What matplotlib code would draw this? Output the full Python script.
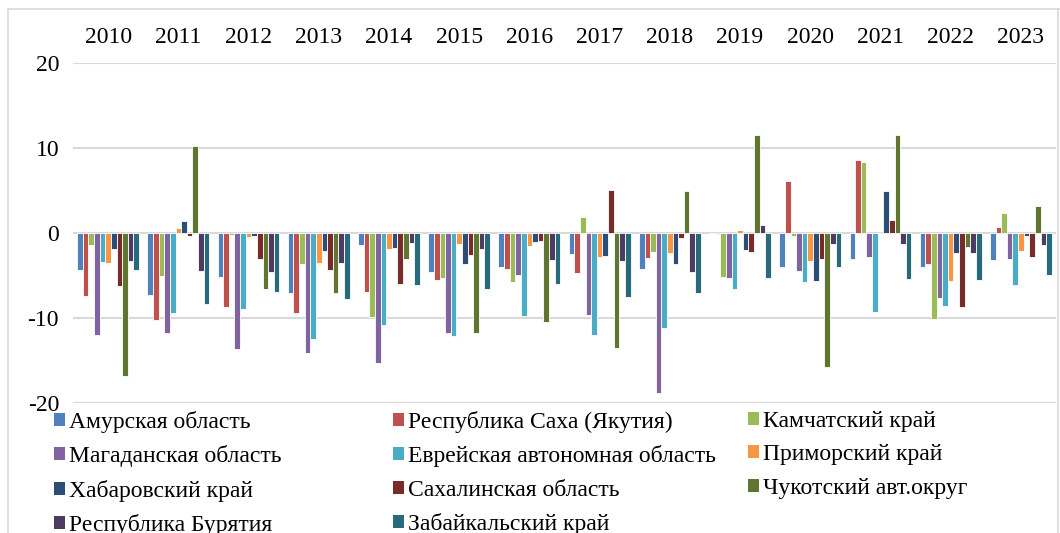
import matplotlib
matplotlib.use('Agg')
import matplotlib.pyplot as plt
from matplotlib.patches import Patch
from matplotlib.lines import Line2D
import numpy as np

plt.rcParams['font.family'] = ['Liberation Serif', 'DejaVu Serif']

years = ['2010', '2011', '2012', '2013', '2014', '2015', '2016',
         '2017', '2018', '2019', '2020', '2021', '2022', '2023']

regions = ['Амурская область', 'Республика Саха (Якутия)', 'Камчатский край',
           'Магаданская область', 'Еврейская автономная область', 'Приморский край',
           'Хабаровский край', 'Сахалинская область', 'Чукотский авт.округ',
           'Республика Бурятия', 'Забайкальский край']

colors = ['#4F81BD', '#C0504D', '#9BBB59', '#8064A2', '#4BACC6', '#F79646',
          '#2C4D75', '#772C2A', '#5F7530', '#4D3B62', '#276A7C']

amur      = [-4.4, -7.3, -5.2, -7.0, -1.4, -4.55, -3.95, -2.5, -4.2, 0.0, -3.95, -3.0, -4.0, -3.2]
sakha     = [-7.4, -10.2, -8.7, -9.45, -6.9, -5.5, -4.2, -4.7, -2.9, -0.15, 6.15, 8.6, -3.7, 0.75]
kamchatka = [-1.45, -5.0, -0.2, -3.7, -9.9, -5.3, -5.8, 1.9, -2.25, -5.2, -0.35, 8.3, -10.1, 2.4]
magadan   = [-12.0, -11.8, -13.7, -14.1, -15.3, -11.8, -4.95, -9.65, -18.8, -5.25, -4.45, -2.8, -7.7, -3.0]
evrei     = [-3.45, -9.45, -8.9, -12.5, -10.8, -12.1, -9.75, -12.0, -11.2, -6.55, -5.75, -9.3, -8.6, -6.1]
primorsky = [-3.5, 0.55, -0.5, -3.55, -1.9, -1.35, -1.55, -2.85, -2.3, 0.4, -3.25, -0.1, -5.7, -2.1]
khab      = [-1.9, 1.45, -0.3, -2.1, -1.8, -3.6, -1.05, -2.7, -3.6, -2.0, -5.6, 5.0, -2.3, -0.4]
sakhalin  = [-6.2, -0.3, -3.05, -4.4, -5.95, -2.55, -0.9, 5.05, -0.6, -2.2, -3.0, 1.55, -8.7, -2.8]
chukotka  = [-16.8, 10.2, -6.6, -7.0, -3.0, -11.8, -10.5, -13.5, 5.0, 11.5, -15.8, 11.55, -1.7, 3.15]
buryatia  = [-3.25, -4.5, -4.6, -3.55, -1.15, -1.9, -3.2, -3.35, -4.6, 1.0, -1.35, -1.3, -2.3, -1.45]
zabaikal  = [-4.35, -8.4, -6.9, -7.8, -6.15, -6.6, -5.95, -7.5, -7.0, -5.3, -3.95, -5.45, -5.5, -4.95]

series = [amur, sakha, kamchatka, magadan, evrei, primorsky,
          khab, sakhalin, chukotka, buryatia, zabaikal]

fig = plt.figure(figsize=(10.6, 5.33), dpi=100)
W, H = 1060, 533
ax = fig.add_axes([73 / W, 1 - 403 / H, (1056 - 73) / W, (403 - 63) / H])

x = np.arange(len(years))
slot = 0.08
n = len(series)
for i, (vals, c) in enumerate(zip(series, colors)):
    off = (i - (n - 1) / 2) * slot
    ax.bar(x + off, vals, width=slot, color=c, edgecolor='white', linewidth=0.6, zorder=3)

ax.set_xlim(-0.5, len(years) - 0.5)
ax.set_ylim(-20, 20)
ax.set_yticks([-20, -10, 0, 10, 20])
ax.set_yticklabels(['-20', '-10', '0', '10', '20'])
ax.set_xticks(x)
ax.set_xticklabels(years)
ax.xaxis.tick_top()
ax.tick_params(axis='x', length=0, pad=11, labelsize=17)
ax.tick_params(axis='y', length=0, pad=10, labelsize=17)
ax.grid(axis='y', color='#D9D9D9', linewidth=1.5, zorder=0)
for s in ax.spines.values():
    s.set_visible(False)

# рамка диаграммы
fig.add_artist(Line2D([8 / W, 8 / W], [0, 1 - 9 / H], color='#D9D9D9', lw=1.2))
fig.add_artist(Line2D([8 / W, 1], [1 - 9 / H, 1 - 9 / H], color='#D9D9D9', lw=1.2))
fig.add_artist(Line2D([1058 / W, 1058 / W], [0, 1 - 9 / H], color='#D9D9D9', lw=1.2))

# легенда в три колонки
cols = [[0, 3, 6, 9], [1, 4, 7, 10], [2, 5, 8]]
col_x = [54, 393, 748]
for idx, cx in zip(cols, col_x):
    handles = [Patch(facecolor=colors[k], edgecolor='none') for k in idx]
    labels = [regions[k] for k in idx]
    fig.legend(handles, labels, loc='upper left', bbox_to_anchor=(cx / W, 1 - 411 / H),
               frameon=False, fontsize=17, handlelength=0.47, handleheight=0.47,
               handletextpad=0.15, labelspacing=0.52, borderaxespad=0, borderpad=0)

fig.savefig('out.png', dpi=100)
